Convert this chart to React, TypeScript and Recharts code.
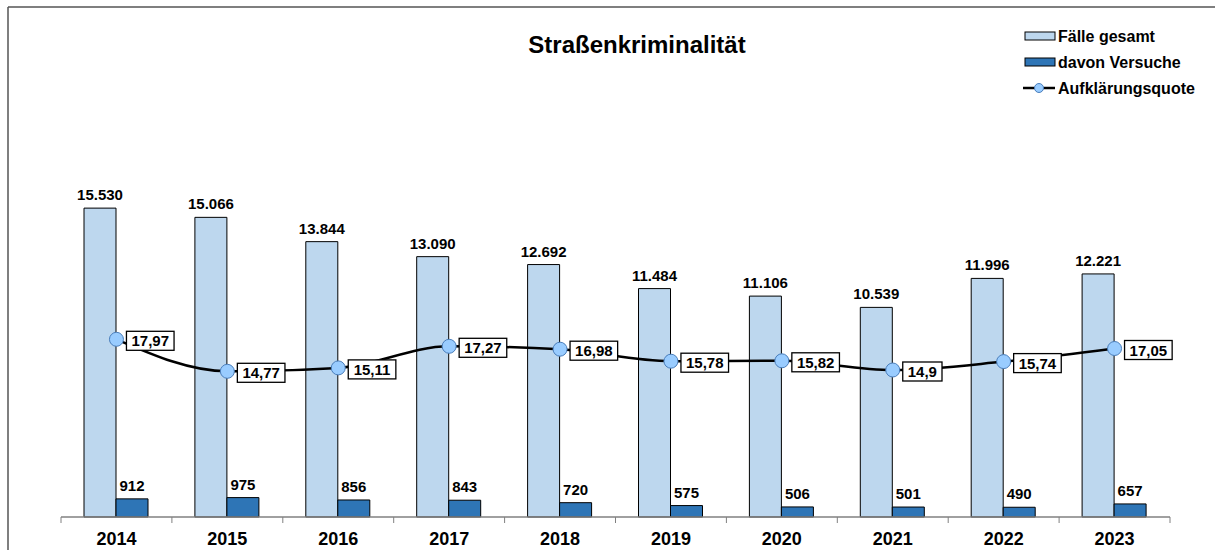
import { ComposedChart, Bar, Line, XAxis, YAxis, LabelList } from 'recharts'

const years = ['2014', '2015', '2016', '2017', '2018', '2019', '2020', '2021', '2022', '2023']
const cases = [15530, 15066, 13844, 13090, 12692, 11484, 11106, 10539, 11996, 12221]
const attempts = [912, 975, 856, 843, 720, 575, 506, 501, 490, 657]
const rates = [17.97, 14.77, 15.11, 17.27, 16.98, 15.78, 15.82, 14.9, 15.74, 17.05]

const data = years.map((year, i) => ({
  year,
  cases: cases[i],
  attempts: attempts[i],
  rate: rates[i],
}))

const W = 1215
const H = 550
const PLOT_LEFT = 61
const PLOT_RIGHT = 1170
const PLOT_TOP = 157
const PLOT_BOTTOM = 517
const FONT = '"Liberation Sans", Arial, sans-serif'

const LIGHT = '#BDD7EE'
const DARK = '#2E75B6'

const fmtThousands = (n: number) => String(n).replace(/\B(?=(\d{3})+(?!\d))/g, '.')
const fmtRate = (v: number) => String(v).replace('.', ',')

function YearTick({ x, payload, index }: any) {
  const bw = (PLOT_RIGHT - PLOT_LEFT) / years.length
  return (
    <g>
      <line x1={x - bw / 2} x2={x - bw / 2} y1={PLOT_BOTTOM} y2={PLOT_BOTTOM + 6} stroke="#808080" />
      {index === years.length - 1 && (
        <line x1={x + bw / 2} x2={x + bw / 2} y1={PLOT_BOTTOM} y2={PLOT_BOTTOM + 6} stroke="#808080" />
      )}
      <text
        x={x}
        y={PLOT_BOTTOM + 28}
        textAnchor="middle"
        fontFamily={FONT}
        fontWeight="bold"
        fontSize={18}
        fill="#000"
      >
        {payload.value}
      </text>
    </g>
  )
}

function RateLabel({ x, y, value }: any) {
  const s = fmtRate(value)
  let tw = 0
  for (const ch of s) tw += ch === ',' ? 4.2 : 8.35
  const w = tw + 10
  const bx = x + 10
  return (
    <g>
      <rect x={bx} y={y - 8} width={w} height={19} fill="#fff" stroke="#000" strokeWidth={1.3} />
      <text
        x={bx + w / 2}
        y={y + 7}
        textAnchor="middle"
        fontFamily={FONT}
        fontWeight="bold"
        fontSize={15}
        fill="#000"
      >
        {s}
      </text>
    </g>
  )
}

function Overlay() {
  const textProps = { fontFamily: FONT, fontWeight: 'bold' as const, fontSize: 16, fill: '#000' }
  return (
    <svg width={W} height={H} style={{ position: 'absolute', left: 0, top: 0, pointerEvents: 'none' }}>
      <line x1={8} y1={7} x2={W} y2={7} stroke="#555" strokeWidth={1.5} />
      <line x1={8} y1={7} x2={8} y2={H} stroke="#555" strokeWidth={1.5} />
      <text x={637} y={53} textAnchor="middle" fontFamily={FONT} fontWeight="bold" fontSize={24} fill="#000">
        Straßenkriminalität
      </text>
      <rect x={1025} y={32} width={30} height={8} fill={LIGHT} stroke="#000" strokeWidth={1} />
      <text x={1058} y={42} {...textProps}>Fälle gesamt</text>
      <rect x={1025} y={58} width={30} height={8} fill={DARK} stroke="#000" strokeWidth={1} />
      <text x={1058} y={68} {...textProps}>davon Versuche</text>
      <line x1={1023} y1={88} x2={1055} y2={88} stroke="#000" strokeWidth={2.5} />
      <circle cx={1039} cy={88} r={4.5} fill="#99CCFF" stroke="#4A7EBB" strokeWidth={1} />
      <text x={1058} y={94} {...textProps}>Aufklärungsquote</text>
    </svg>
  )
}

export default function App() {
  return (
    <div style={{ position: 'absolute', left: 0, top: 0, width: W, height: H, background: '#fff' }}>
      <ComposedChart
        width={W}
        height={H}
        data={data}
        margin={{ top: PLOT_TOP, left: PLOT_LEFT, right: W - PLOT_RIGHT, bottom: H - PLOT_BOTTOM - 30 }}
        barGap={0}
      >
        <XAxis
          dataKey="year"
          height={30}
          interval={0}
          axisLine={{ stroke: '#808080', strokeWidth: 1.3 }}
          tickLine={false}
          tick={<YearTick />}
        />
        <YAxis yAxisId="count" hide domain={[0, 18100]} />
        <YAxis yAxisId="rate" hide orientation="right" domain={[0.2, 36.2]} />
        <Bar yAxisId="count" dataKey="cases" fill={LIGHT} stroke="#000" strokeWidth={1} barSize={32} isAnimationActive={false}>
          <LabelList
            dataKey="cases"
            position="top"
            offset={8}
            formatter={(v: any) => fmtThousands(v)}
            style={{ fontFamily: FONT, fontWeight: 'bold', fontSize: 15, fill: '#000' }}
          />
        </Bar>
        <Bar yAxisId="count" dataKey="attempts" fill={DARK} stroke="#000" strokeWidth={1} barSize={32} isAnimationActive={false}>
          <LabelList
            dataKey="attempts"
            position="top"
            offset={8}
            formatter={(v: any) => fmtThousands(v)}
            style={{ fontFamily: FONT, fontWeight: 'bold', fontSize: 15, fill: '#000' }}
          />
        </Bar>
        <Line
          yAxisId="rate"
          type="monotone"
          dataKey="rate"
          stroke="#000"
          strokeWidth={2.5}
          dot={{ r: 7, fill: '#99CCFF', stroke: '#4A7EBB', strokeWidth: 1 }}
          isAnimationActive={false}
        >
          <LabelList dataKey="rate" content={<RateLabel />} />
        </Line>
      </ComposedChart>
      <Overlay />
    </div>
  )
}
